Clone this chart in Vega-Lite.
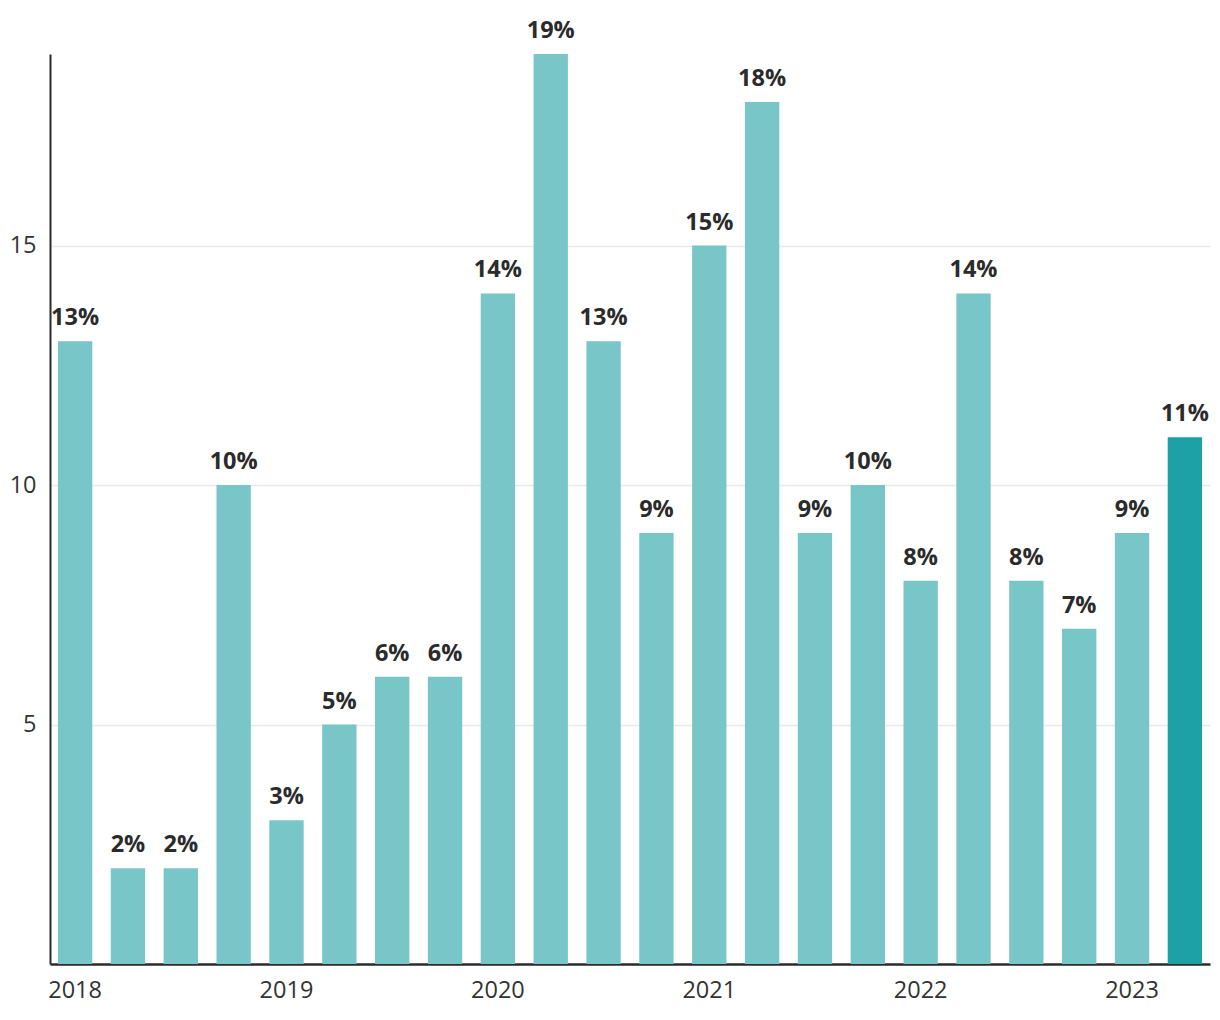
{
  "$schema": "https://vega.github.io/schema/vega-lite/v6.json",
  "width": 1160,
  "height": 910,
  "autosize": {"type": "none"},
  "padding": {"left": 50, "top": 54, "right": 10, "bottom": 56},
  "config": {
    "font": "Open Sans",
    "view": {"stroke": null},
    "background": "white"
  },
  "data": {
    "values": [
      {"period": "2018-Q1", "value": 13, "latest": "no"},
      {"period": "2018-Q2", "value": 2, "latest": "no"},
      {"period": "2018-Q3", "value": 2, "latest": "no"},
      {"period": "2018-Q4", "value": 10, "latest": "no"},
      {"period": "2019-Q1", "value": 3, "latest": "no"},
      {"period": "2019-Q2", "value": 5, "latest": "no"},
      {"period": "2019-Q3", "value": 6, "latest": "no"},
      {"period": "2019-Q4", "value": 6, "latest": "no"},
      {"period": "2020-Q1", "value": 14, "latest": "no"},
      {"period": "2020-Q2", "value": 19, "latest": "no"},
      {"period": "2020-Q3", "value": 13, "latest": "no"},
      {"period": "2020-Q4", "value": 9, "latest": "no"},
      {"period": "2021-Q1", "value": 15, "latest": "no"},
      {"period": "2021-Q2", "value": 18, "latest": "no"},
      {"period": "2021-Q3", "value": 9, "latest": "no"},
      {"period": "2021-Q4", "value": 10, "latest": "no"},
      {"period": "2022-Q1", "value": 8, "latest": "no"},
      {"period": "2022-Q2", "value": 14, "latest": "no"},
      {"period": "2022-Q3", "value": 8, "latest": "no"},
      {"period": "2022-Q4", "value": 7, "latest": "no"},
      {"period": "2023-Q1", "value": 9, "latest": "no"},
      {"period": "2023-Q2", "value": 11, "latest": "yes"}
    ]
  },
  "encoding": {
    "x": {
      "field": "period",
      "type": "ordinal",
      "sort": null,
      "scale": {"paddingInner": 0.35, "paddingOuter": 0.15},
      "axis": {
        "title": null,
        "labelAngle": 0,
        "ticks": false,
        "labelExpr": "indexof(datum.value, 'Q1') >= 0 ? slice(datum.value, 0, 4) : ''",
        "labelFontSize": 23.5,
        "labelColor": "#333333",
        "labelPadding": 14,
        "domainColor": "#2b2b2b",
        "domainWidth": 2.5,
        "grid": false
      }
    },
    "y": {
      "field": "value",
      "type": "quantitative",
      "scale": {"domain": [0, 19], "nice": false},
      "axis": {
        "title": null,
        "values": [5, 10, 15],
        "ticks": false,
        "labelFontSize": 23.5,
        "labelColor": "#333333",
        "labelPadding": 14,
        "domainColor": "#2b2b2b",
        "domainWidth": 2,
        "gridColor": "#e9e9e9",
        "gridWidth": 1.5
      }
    }
  },
  "layer": [
    {
      "mark": {"type": "bar"},
      "encoding": {
        "color": {
          "field": "latest",
          "type": "nominal",
          "scale": {"domain": ["no", "yes"], "range": ["#78C6C8", "#1DA1A6"]},
          "legend": null
        }
      }
    },
    {
      "mark": {"type": "text", "baseline": "bottom", "dy": -11, "fontSize": 23.5, "fontWeight": "bold", "color": "#2b2b2b", "text": {"expr": "datum.value + '%'"}},
      "encoding": {}
    }
  ]
}
